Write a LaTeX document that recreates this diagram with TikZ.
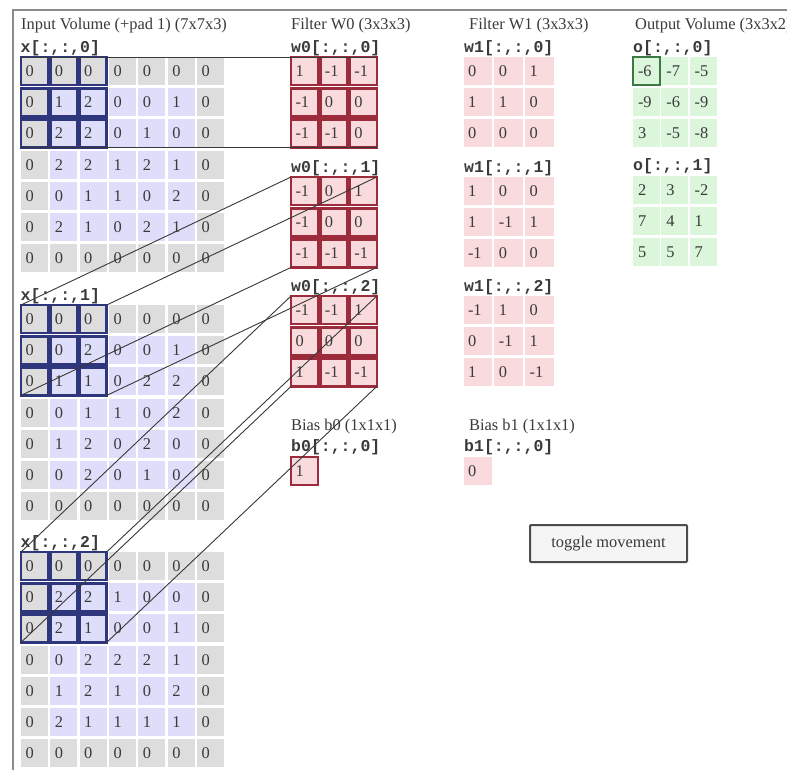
\documentclass[tikz,border=0pt]{standalone}
\usepackage{fontspec}
\setmainfont{Liberation Serif}
\setmonofont{Liberation Mono}
\definecolor{padgray}{RGB}{221,221,221}
\definecolor{inlav}{RGB}{222,222,250}
\definecolor{wpink}{RGB}{250,219,221}
\definecolor{ogreen}{RGB}{220,246,220}
\definecolor{hlblue}{RGB}{46,54,124}
\definecolor{hlred}{RGB}{156,44,60}
\definecolor{hlgreen}{RGB}{58,120,68}
\definecolor{txt}{RGB}{58,58,58}
\newcommand\fs{\fontsize{16.4}{18}\selectfont}
\newcommand\ms{\fontsize{16.5}{18}\selectfont\ttfamily\bfseries}
\def\xA{{0,0,0,0,0,0,0},{0,1,2,0,0,1,0},{0,2,2,0,1,0,0},{0,2,2,1,2,1,0},{0,0,1,1,0,2,0},{0,2,1,0,2,1,0},{0,0,0,0,0,0,0}}
\def\xB{{0,0,0,0,0,0,0},{0,0,2,0,0,1,0},{0,1,1,0,2,2,0},{0,0,1,1,0,2,0},{0,1,2,0,2,0,0},{0,0,2,0,1,0,0},{0,0,0,0,0,0,0}}
\def\xC{{0,0,0,0,0,0,0},{0,2,2,1,0,0,0},{0,2,1,0,0,1,0},{0,0,2,2,2,1,0},{0,1,2,1,0,2,0},{0,2,1,1,1,1,0},{0,0,0,0,0,0,0}}
\def\wA{{1,-1,-1},{-1,0,0},{-1,-1,0}}
\def\wB{{-1,0,1},{-1,0,0},{-1,-1,-1}}
\def\wC{{-1,-1,1},{0,0,0},{1,-1,-1}}
\def\vA{{0,0,1},{1,1,0},{0,0,0}}
\def\vB{{1,0,0},{1,-1,1},{-1,0,0}}
\def\vC{{-1,1,0},{0,-1,1},{1,0,-1}}
\def\oA{{-6,-7,-5},{-9,-6,-9},{3,-5,-8}}
\def\oB{{2,3,-2},{7,4,1},{5,5,7}}
\newcommand\ingrid[3]{%
  \foreach \row [count=\r] in #3 {%
    \foreach \v [count=\c] in \row {%
      \def\cc{inlav}%
      \ifnum\r=1 \def\cc{padgray}\fi
      \ifnum\r=7 \def\cc{padgray}\fi
      \ifnum\c=1 \def\cc{padgray}\fi
      \ifnum\c=7 \def\cc{padgray}\fi
      \node[cell,fill=\cc] (#1-\r-\c) at ({21+(\c-1)*29.35},{#2+(\r-1)*31.2}) {\v};
    }}}
\newcommand\smallgrid[6]{%
  \foreach \row [count=\r] in #5 {%
    \foreach \v [count=\c] in \row {%
      \node[#6] (#1-\r-\c) at ({#2+(\c-1)*#4},{#3+(\r-1)*31.2}) {\v};
    }}}
\begin{document}
\begin{tikzpicture}[x=1pt,y=-1pt,
  cellbase/.style={anchor=north west, minimum height=28pt, inner ysep=0pt,
    align=left, text height=11pt, text depth=0pt, font=\fs, text=txt, outer sep=0pt},
  cell/.style={cellbase, minimum width=27pt, inner xsep=4.5pt, text width=18pt},
  wcell/.style={cell, fill=wpink},
  vcell/.style={cellbase, minimum width=28.5pt, inner xsep=4.5pt, text width=19.5pt, fill=wpink},
  ocell/.style={cellbase, minimum width=27pt, inner xsep=5pt, text width=17pt, fill=ogreen},
  title/.style={anchor=base west, inner sep=0pt, font=\fs, text=txt},
  lab/.style={anchor=base west, inner sep=0pt, font=\ms, text=txt},
  hlx/.style={draw=hlblue, line width=2.6pt},
  hlw/.style={draw=hlred, line width=2.6pt},
  hlo/.style={draw=hlgreen, line width=2pt},
  conn/.style={draw=black!78, line width=0.9pt},
  frame/.style={draw=black!45, line width=2pt},
  button/.style={draw=black!70, line width=2pt, fill=black!4, minimum width=157pt,
    minimum height=37pt, inner sep=0pt, font=\fs, text=txt, rounded corners=1pt}]
\useasboundingbox (0,0) rectangle (787,769);
\clip (0,0) rectangle (787,769);
\fill[white] (0,0) rectangle (787,769);
\draw[frame] (12.5,770) -- (12.5,9.5) -- (790,9.5);
% titles
\node[title] (tin) at (21,29.5) {Input Volume (+pad 1) (7x7x3)};
\node[title] (tw0) at (291,29.5) {Filter W0 (3x3x3)};
\node[title] (tw1) at (469,29.5) {Filter W1 (3x3x3)};
\node[title] (tout) at (635,29.5) {Output Volume (3x3x2)};
% input volume
\node[lab] (lxa) at (20.5,52.5) {x[:,:,0]};
\node[lab] (lxb) at (20.5,300.5) {x[:,:,1]};
\node[lab] (lxc) at (20.5,547.5) {x[:,:,2]};
\ingrid{xa}{57}{\xA}
\ingrid{xb}{305}{\xB}
\ingrid{xc}{552}{\xC}
% filter W0
\node[lab] (lwa) at (291,52.5) {w0[:,:,0]};
\node[lab] (lwb) at (291,172.5) {w0[:,:,1]};
\node[lab] (lwc) at (291,291.5) {w0[:,:,2]};
\smallgrid{wa}{291}{57}{29.4}{\wA}{wcell}
\smallgrid{wb}{291}{177}{29.4}{\wB}{wcell}
\smallgrid{wc}{291}{296}{29.4}{\wC}{wcell}
% filter W1
\node[lab] (lva) at (464,52.5) {w1[:,:,0]};
\node[lab] (lvb) at (464,172.5) {w1[:,:,1]};
\node[lab] (lvc) at (464,291.5) {w1[:,:,2]};
\smallgrid{va}{463.5}{57}{30.8}{\vA}{vcell}
\smallgrid{vb}{463.5}{177}{30.8}{\vB}{vcell}
\smallgrid{vc}{463.5}{296}{30.8}{\vC}{vcell}
% output
\node[lab] (loa) at (633,52.5) {o[:,:,0]};
\node[lab] (lob) at (633,170.5) {o[:,:,1]};
\smallgrid{oa}{633}{57}{28.3}{\oA}{ocell}
\smallgrid{ob}{633}{176}{28.3}{\oB}{ocell}
% biases
\node[title] (tb0) at (291,430) {Bias b0 (1x1x1)};
\node[lab] (lb0) at (291,451) {b0[:,:,0]};
\node[wcell] (ba) at (291,457) {1};
\node[title] (tb1) at (469,430) {Bias b1 (1x1x1)};
\node[lab] (lb1) at (464,451) {b1[:,:,0]};
\node[vcell] (bb) at (463.5,457) {0};
% highlights
\foreach \b in {xa,xb,xc}{\foreach \r in {1,2,3}{\foreach \c in {1,2,3}{
  \draw[hlx] (\b-\r-\c.north west) rectangle (\b-\r-\c.south east);}}}
\foreach \b in {wa,wb,wc}{\foreach \r in {1,2,3}{\foreach \c in {1,2,3}{
  \draw[hlw] (\b-\r-\c.north west) rectangle (\b-\r-\c.south east);}}}
\draw[hlw] (ba.north west) rectangle (ba.south east);
\draw[hlo] (oa-1-1.north west) rectangle (oa-1-1.south east);
% connectors
\foreach \s/\t in {xa/wa,xb/wb,xc/wc}{
  \draw[conn] (\s-1-1.north west) -- (\t-1-1.north west);
  \draw[conn] (\s-1-3.north east) -- (\t-1-3.north east);
  \draw[conn] (\s-3-1.south west) -- (\t-3-1.south west);
  \draw[conn] (\s-3-3.south east) -- (\t-3-3.south east);
}
% button
\node[button] (tog) at (608.5,543.5) {toggle movement};
\end{tikzpicture}
\end{document}
